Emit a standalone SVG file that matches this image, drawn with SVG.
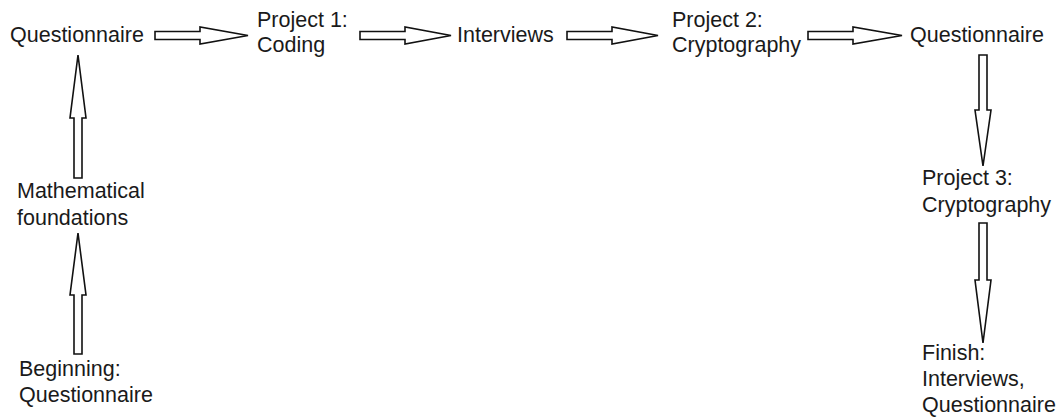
<svg xmlns="http://www.w3.org/2000/svg" width="1058" height="419" viewBox="0 0 1058 419">
<style>
text{font-family:"Liberation Sans",Arial,sans-serif;font-size:21.5px;fill:#1a1a1a}
.ar{fill:#fff;stroke:#111;stroke-width:1.6;stroke-linejoin:miter}
</style>
<rect width="1058" height="419" fill="#fff"/>
<g id="connectors">
<path class="ar" d="M155,31.5 H200 V27 L248,35.5 L200,44 V39.5 H155 Z"/>
<path class="ar" d="M360,31.5 H405 V27 L451,35.5 L405,44 V39.5 H360 Z"/>
<path class="ar" d="M567,31.5 H612 V27 L658,35.5 L612,44 V39.5 H567 Z"/>
<path class="ar" d="M808,31.5 H853 V27 L902,35.5 L853,44 V39.5 H808 Z"/>
<path class="ar" d="M74,178 V118 H70 L78,55 L86,118 H82 V178 Z"/>
<path class="ar" d="M74,354 V295 H70 L78,233 L86,295 H82 V354 Z"/>
<path class="ar" d="M979,55 V110 H975 L983,166 L991,110 H987 V55 Z"/>
<path class="ar" d="M979,223 V280 H975 L983,343 L991,280 H987 V223 Z"/>
</g>
<g id="n-questionnaire1"><text x="10" y="42">Questionnaire</text></g>
<g id="n-project1"><text x="257" y="27">Project 1:</text><text x="257" y="52">Coding</text></g>
<g id="n-interviews"><text x="457" y="42">Interviews</text></g>
<g id="n-project2"><text x="672" y="27">Project 2:</text><text x="672" y="52">Cryptography</text></g>
<g id="n-questionnaire2"><text x="910" y="42">Questionnaire</text></g>
<g id="n-project3"><text x="922" y="185">Project 3:</text><text x="922" y="212">Cryptography</text></g>
<g id="n-finish"><text x="922" y="360">Finish:</text><text x="922" y="386">Interviews,</text><text x="922" y="412">Questionnaire</text></g>
<g id="n-math"><text x="17" y="198">Mathematical</text><text x="17" y="225">foundations</text></g>
<g id="n-beginning"><text x="19" y="376">Beginning:</text><text x="19" y="402">Questionnaire</text></g>
</svg>
